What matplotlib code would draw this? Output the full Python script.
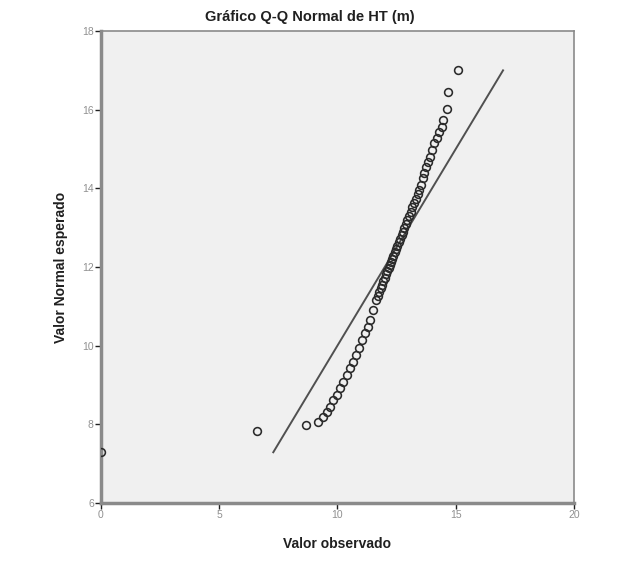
import matplotlib
matplotlib.use("Agg")
import matplotlib.pyplot as plt

plt.rcParams['font.family'] = ['Liberation Sans', 'DejaVu Sans']

title = "Gráfico Q-Q Normal de HT (m)"
x_label = "Valor observado"
y_label = "Valor Normal esperado"

x_ticks = [0, 5, 10, 15, 20]
y_ticks = [6, 8, 10, 12, 14, 16, 18]

observed = [0.00, 6.60, 8.67, 9.18, 9.39, 9.56, 9.69, 9.81, 9.98, 10.11, 10.24,
            10.41, 10.53, 10.66, 10.79, 10.91, 11.04, 11.17, 11.29, 11.38, 11.50,
            11.63, 11.70, 11.76, 11.83, 11.89, 11.94, 12.00, 12.06, 12.11, 12.16,
            12.21, 12.26, 12.32, 12.37, 12.42, 12.47, 12.53, 12.59, 12.65, 12.71,
            12.77, 12.83, 12.90, 12.96, 13.03, 13.10, 13.17, 13.24, 13.32, 13.39,
            13.46, 13.54, 13.62, 13.66, 13.74, 13.83, 13.91, 14.00, 14.08, 14.21,
            14.29, 14.42, 14.47, 14.63, 14.67, 15.10]
expected = [7.30, 7.83, 7.98, 8.06, 8.19, 8.31, 8.44, 8.62, 8.75, 8.92, 9.08,
            9.25, 9.43, 9.59, 9.76, 9.94, 10.14, 10.32, 10.47, 10.65, 10.91,
            11.16, 11.26, 11.36, 11.46, 11.55, 11.64, 11.73, 11.81, 11.89, 11.97,
            12.05, 12.13, 12.21, 12.29, 12.37, 12.45, 12.54, 12.63, 12.72, 12.81,
            12.90, 13.00, 13.10, 13.20, 13.30, 13.41, 13.52, 13.63, 13.74, 13.85,
            13.96, 14.08, 14.26, 14.39, 14.54, 14.67, 14.80, 14.97, 15.15, 15.28,
            15.43, 15.56, 15.74, 16.02, 16.45, 17.01]

ref_line = [7.29, 17.0]

fig = plt.figure(figsize=(6.26, 5.63), dpi=100)
ax = fig.add_axes([0.161, 0.1066, 0.756, 0.8383])
ax.set_facecolor('#f0f0f0')

ax.plot(ref_line, ref_line, color='#505050', linewidth=1.4, zorder=2)
ax.plot(observed, expected, linestyle='none', marker='o', markersize=5.6,
        markerfacecolor='none', markeredgecolor='#2a2a2a', markeredgewidth=1.15,
        zorder=3)

ax.set_xlim(0, 20)
ax.set_ylim(6, 18)
ax.set_xticks(x_ticks)
ax.set_yticks(y_ticks)
ax.tick_params(axis='both', direction='out', length=4, width=1, color='#202020',
               labelsize=7.5, labelcolor='#909090', pad=1)

for s in ax.spines.values():
    s.set_color('#8a8a8a')
    s.set_linewidth(1.2)
ax.spines['left'].set_linewidth(2.5)
ax.spines['bottom'].set_linewidth(2.5)

ax.set_xlabel(x_label, fontsize=10, fontweight='bold', color='#202020', labelpad=12)
ax.set_ylabel(y_label, fontsize=10, fontweight='bold', color='#202020', labelpad=10)
fig.text(310/626, 1 - 17/563, title, ha='center', va='center', fontsize=10.5,
         fontweight='bold', color='#202020')

fig.savefig('out.png', dpi=100)
